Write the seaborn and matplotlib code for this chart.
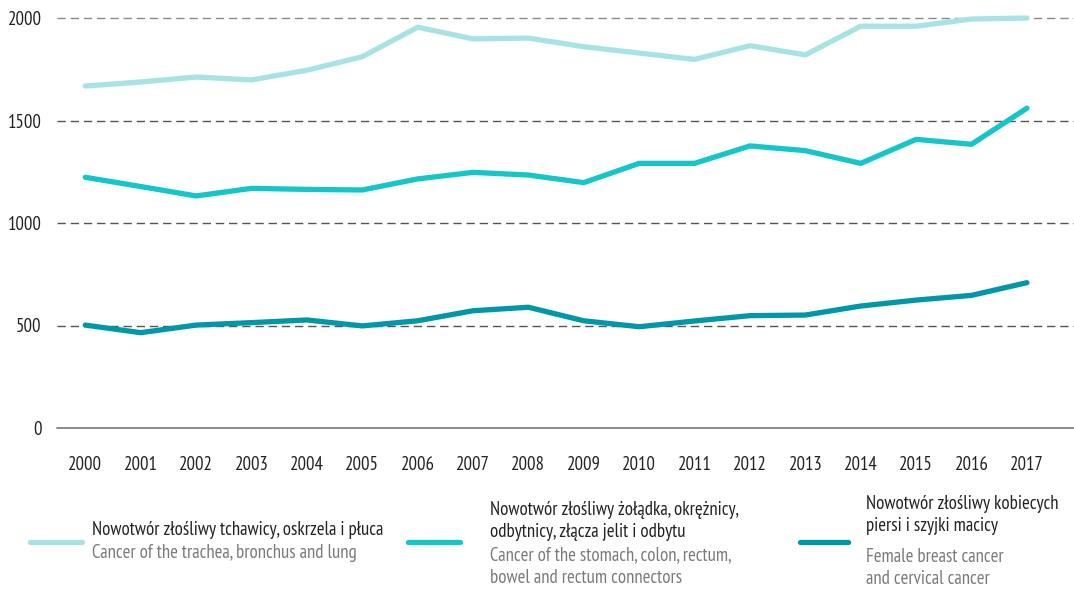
import matplotlib
matplotlib.use("Agg")
import matplotlib.pyplot as plt
from matplotlib.lines import Line2D
import seaborn as sns
import pandas as pd

years = list(range(2000, 2018))

lung = [1668, 1688, 1712, 1698, 1745, 1811, 1955, 1898, 1902, 1860,
        1829, 1798, 1865, 1820, 1960, 1960, 1995, 2000]
colorectal = [1223, 1178, 1132, 1169, 1164, 1161, 1215, 1247, 1234, 1197,
              1291, 1291, 1376, 1353, 1291, 1408, 1384, 1560]
breast_cervical = [502, 465, 502, 514, 527, 498, 523, 572, 589, 523,
                   494, 522, 548, 551, 595, 624, 647, 709]

series_keys = ["lung", "colorectal", "breast"]
series_colors = ["#a8e3e3", "#14c5ca", "#0098a8"]
labels_pl = ["Nowotwór złośliwy tchawicy, oskrzela i płuca",
             "Nowotwór złośliwy żołądka, okrężnicy,\nodbytnicy, złącza jelit i odbytu",
             "Nowotwór złośliwy kobiecych\npiersi i szyjki macicy"]
labels_en = ["Cancer of the trachea, bronchus and lung",
             "Cancer of the stomach, colon, rectum,\nbowel and rectum connectors",
             "Female breast cancer\nand cervical cancer"]
y_ticks = [0, 500, 1000, 1500, 2000]

sns.set_theme(style="white")
plt.rcParams["font.family"] = ["PT Sans Narrow", "Asap Condensed", "DejaVu Sans"]

df = pd.DataFrame({
    "year": years * 3,
    "value": lung + colorectal + breast_cervical,
    "series": sum([[k] * len(years) for k in series_keys], []),
})

fig = plt.figure(figsize=(10.74, 5.93), dpi=100)
ax = fig.add_axes([57 / 1074, 1 - 428 / 593, 1 - 57 / 1074, (428 - 18) / 593])

# grid lines behind the data
for v in y_ticks[1:]:
    ax.axhline(v, color="#555555" if v < 2000 else "#8a8a8a", lw=1.0,
               dashes=(6, 3.5), zorder=1)
ax.axhline(0, color="#777777", lw=1.2, zorder=1)

sns.lineplot(data=df, x="year", y="value", hue="series", hue_order=series_keys,
             palette=dict(zip(series_keys, series_colors)), linewidth=3.8,
             legend=False, ax=ax, zorder=3)
for ln in ax.get_lines():
    ln.set_solid_capstyle("round")
    ln.set_clip_on(False)

ax.set_xlim(1999.49, 2017.85)
ax.set_ylim(0, 2000)
ax.set_xticks(years)
ax.set_xticklabels([str(y) for y in years])
ax.set_yticks(y_ticks)
ax.set_yticklabels([str(v) for v in y_ticks])
ax.tick_params(axis="x", length=0, pad=20, labelsize=13.5, labelcolor="#222222")
ax.tick_params(axis="y", length=0, pad=11, labelsize=13.5, labelcolor="#222222")
ax.set_xlabel("")
ax.set_ylabel("")
for s in ax.spines.values():
    s.set_visible(False)

# legend entries drawn in figure pixel coordinates
W, H = 1074, 593
def fx(px):
    return px / W
def fy(py):
    return 1 - py / H

legend_items = [
    (30, 82, 542, 92, 530, 553),
    (408, 460, 542, 490, 521, 567),
    (800, 848, 542, 866, 515, 568),
]
for (x0, x1, ly, tx, y_pl, y_en), col, tpl, ten in zip(
        legend_items, series_colors, labels_pl, labels_en):
    fig.add_artist(Line2D([fx(x0), fx(x1)], [fy(ly), fy(ly)], color=col, lw=3.8,
                          solid_capstyle="round", transform=fig.transFigure))
    fig.text(fx(tx), fy(y_pl), tpl, ha="left", va="center", fontsize=13.5,
             color="#222222", linespacing=1.35)
    fig.text(fx(tx), fy(y_en), ten, ha="left", va="center", fontsize=13.5,
             color="#7a7a7a", linespacing=1.35)

fig.savefig("out.png", dpi=100, facecolor="white")
